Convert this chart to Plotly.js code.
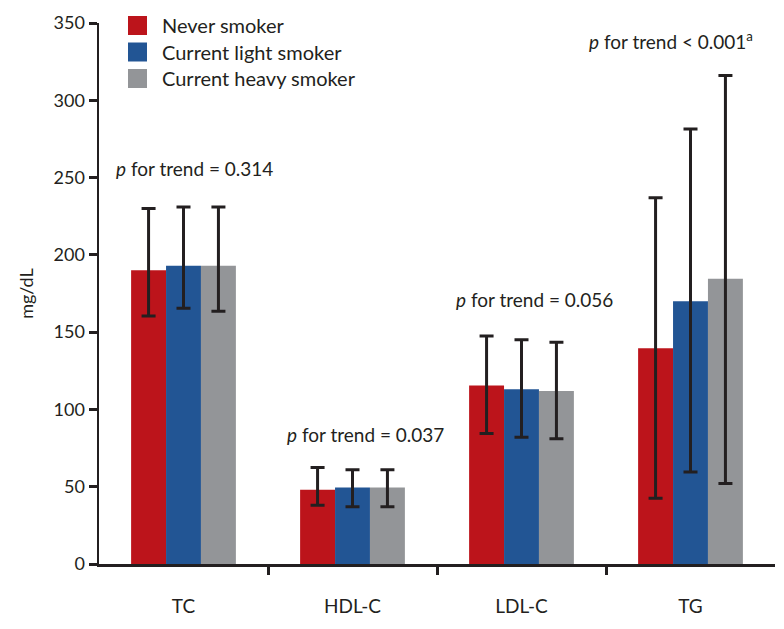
<!DOCTYPE html>
<html>
<head>
<meta charset="utf-8">
<script src="https://cdn.plot.ly/plotly-3.0.1.min.js"></script>
<style>
  body { margin: 0; background: #fff; }
  #chart { width: 784px; height: 629px; }
</style>
</head>
<body>
<div id="chart"></div>
<script>
var CHART = document.getElementById('chart');

var categories = ['TC', 'HDL-C', 'LDL-C', 'TG'];

var neverMean = [190, 48, 115.5, 139.5];
var neverHigh = [230, 62.5, 147.5, 237];
var neverLow = [160.5, 38, 84.5, 42.5];

var lightMean = [193, 49.5, 113, 170];
var lightHigh = [231, 61, 145, 281.5];
var lightLow = [165.5, 37, 82, 59.5];

var heavyMean = [193, 49.5, 112, 184.5];
var heavyHigh = [231, 61, 143.5, 316];
var heavyLow = [163.5, 37, 81, 52];

var seriesNames = ['Never smoker', 'Current light smoker', 'Current heavy smoker'];
var seriesColors = ['#bc141b', '#225594', '#939598'];

var pLabels = [
  '<i>p</i> for trend = 0.314',
  '<i>p</i> for trend = 0.037',
  '<i>p</i> for trend = 0.056',
  '<i>p</i> for trend &lt; 0.001<sup>a</sup>'
];
var pY = [256, 84, 171, 339];
var pShift = [11, 13, 13, -20];

var INK = '#231f20';

// plot area in pixels, used to place the hand-drawn legend
var PL = 99, PR = 775, PT = 23, PB = 564;
function px(x) { return (x - PL) / (PR - PL); }
function py(y) { return (PB - y) / (PB - PT); }

function makeTrace(name, mean, high, low, color) {
  return {
    type: 'bar',
    name: name,
    x: categories,
    y: mean,
    marker: { color: color },
    error_y: {
      type: 'data',
      symmetric: false,
      array: high.map(function (h, i) { return h - mean[i]; }),
      arrayminus: low.map(function (l, i) { return mean[i] - l; }),
      color: INK,
      thickness: 3,
      width: 7
    },
    showlegend: false,
    hoverinfo: 'none'
  };
}

var data = [
  makeTrace(seriesNames[0], neverMean, neverHigh, neverLow, seriesColors[0]),
  makeTrace(seriesNames[1], lightMean, lightHigh, lightLow, seriesColors[1]),
  makeTrace(seriesNames[2], heavyMean, heavyHigh, heavyLow, seriesColors[2])
];

var annotations = categories.map(function (c, i) {
  return {
    x: c, y: pY[i], xref: 'x', yref: 'y',
    text: pLabels[i], showarrow: false,
    xshift: pShift[i],
    font: { size: 19, color: INK }
  };
});

// legend: squares + labels
var shapes = [];
seriesNames.forEach(function (n, i) {
  var top = 16 + i * 26.5;
  shapes.push({
    type: 'rect', xref: 'paper', yref: 'paper',
    x0: px(128), x1: px(147), y0: py(top + 19), y1: py(top),
    fillcolor: seriesColors[i], line: { width: 0 }
  });
  annotations.push({
    xref: 'paper', yref: 'paper', x: px(160), y: py(top + 9.5),
    xanchor: 'left', yanchor: 'middle', showarrow: false,
    text: n, font: { size: 20, color: INK }
  });
});

var layout = {
  width: 784,
  height: 629,
  margin: { l: PL, r: 784 - PR, t: PT, b: 629 - PB },
  paper_bgcolor: '#fff',
  plot_bgcolor: '#fff',
  font: { family: 'Lato, sans-serif', size: 17, color: INK },
  barmode: 'group',
  bargap: 0.38,
  bargroupgap: 0,
  showlegend: false,
  xaxis: {
    type: 'category',
    range: [-0.5, 3.5],
    showline: true, linecolor: INK, linewidth: 2.5,
    ticks: '', showgrid: false, zeroline: false,
    tickfont: { size: 19, color: INK },
    ticklabelstandoff: 24
  },
  xaxis2: {
    overlaying: 'x',
    range: [-0.5, 3.5],
    tickvals: [0.5, 1.5, 2.5],
    ticks: 'outside', ticklen: 10, tickwidth: 3, tickcolor: INK,
    showticklabels: false, showgrid: false, zeroline: false, showline: false
  },
  yaxis: {
    range: [0, 350],
    tickvals: [0, 50, 100, 150, 200, 250, 300, 350],
    showline: true, linecolor: INK, linewidth: 2.5,
    ticks: 'outside', ticklen: 8, tickwidth: 3, tickcolor: INK,
    showgrid: false, zeroline: false,
    tickfont: { size: 18, color: INK },
    title: { text: 'mg/dL', font: { size: 18, color: INK }, standoff: 16 }
  },
  shapes: shapes,
  annotations: annotations
};

// empty trace to activate the tick-only x axis
data.push({ type: 'scatter', x: [null], y: [null], xaxis: 'x2', showlegend: false, hoverinfo: 'none' });

Plotly.newPlot(CHART, data, layout, { displayModeBar: false, staticPlot: true });
</script>
</body>
</html>
